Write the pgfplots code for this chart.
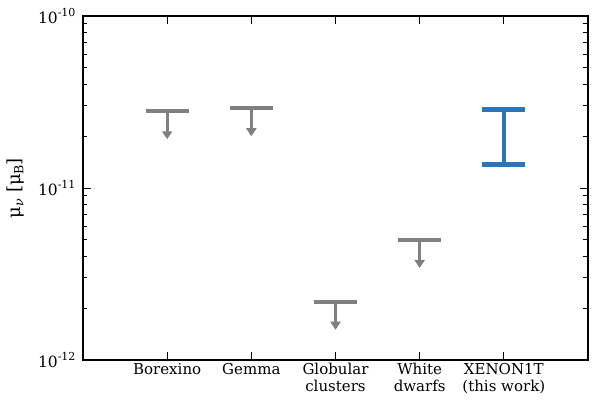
\documentclass[border=0pt]{standalone}
\usepackage{fontspec}
\setmainfont{DejaVu Serif}
\usepackage{pgfplots}
\pgfplotsset{compat=1.18}
\usetikzlibrary{arrows.meta}
\definecolor{limgray}{RGB}{128,128,128}
\definecolor{xeblue}{RGB}{43,117,187}
% exponent and subscript at fixed sizes (\textsuperscript ignores \fontsize)
\newcommand\expo[1]{\raisebox{6.5pt}{\fontsize{11}{12}\selectfont #1}}
\newcommand\subs[1]{\raisebox{-3pt}{\fontsize{12.6}{14}\selectfont #1}}

\begin{document}
\begin{tikzpicture}
\begin{axis}[
    scale only axis,
    width=505pt, height=344pt,
    xmin=0, xmax=6,
    ymode=log,
    ymin=1e-12, ymax=1e-10,
    xtick={1,2,3,4,5},
    xticklabels={Borexino, Gemma, {Globular\\clusters}, {White\\dwarfs}, {XENON1T\\(this work)}},
    xticklabel style={align=center, font=\fontsize{15}{16.5}\selectfont},
    ytick={1e-12,1e-11,1e-10},
    yticklabels={10\expo{-12}, 10\expo{-11}, 10\expo{-10}},
    yticklabel style={font=\fontsize{15.5}{17}\selectfont, xshift=-4pt},
    ylabel={μ\subs{\textit{ν}} [μ\subs{B}]},
    ylabel style={font=\fontsize{18}{20}\selectfont,
        at={(axis description cs:-0.134,0.5)}, anchor=center},
    tick align=inside,
    major tick length=8pt,
    minor tick length=4.5pt,
    every tick/.style={black, line width=1pt},
    axis line style={line width=1.2pt},
    clip=false,
]
% upper limits: caps
\addplot[limgray, line width=4pt] coordinates {(0.745,2.80e-11)(1.255,2.80e-11)};
\addplot[limgray, line width=4pt] coordinates {(1.745,2.91e-11)(2.255,2.91e-11)};
\addplot[limgray, line width=4pt] coordinates {(2.745,2.18e-12)(3.255,2.18e-12)};
\addplot[limgray, line width=4pt] coordinates {(3.745,5.00e-12)(4.255,5.00e-12)};
% upper limits: arrows
\addplot[limgray, line width=3pt, -{Triangle[length=8pt,width=10pt]}] coordinates {(1,2.80e-11)(1,1.92e-11)};
\addplot[limgray, line width=3pt, -{Triangle[length=8pt,width=10pt]}] coordinates {(2,2.91e-11)(2,2.00e-11)};
\addplot[limgray, line width=3pt, -{Triangle[length=8pt,width=10pt]}] coordinates {(3,2.18e-12)(3,1.50e-12)};
\addplot[limgray, line width=3pt, -{Triangle[length=8pt,width=10pt]}] coordinates {(4,5.00e-12)(4,3.43e-12)};
% XENON1T interval
\addplot[xeblue, line width=4.5pt] coordinates {(5,2.86e-11)(5,1.37e-11)};
\addplot[xeblue, line width=4.7pt] coordinates {(4.745,2.86e-11)(5.255,2.86e-11)};
\addplot[xeblue, line width=4.7pt] coordinates {(4.745,1.37e-11)(5.255,1.37e-11)};
\end{axis}
\pgfresetboundingbox
\path[use as bounding box] (-83pt,-46pt) rectangle (525pt,360pt);
\end{tikzpicture}
\end{document}
